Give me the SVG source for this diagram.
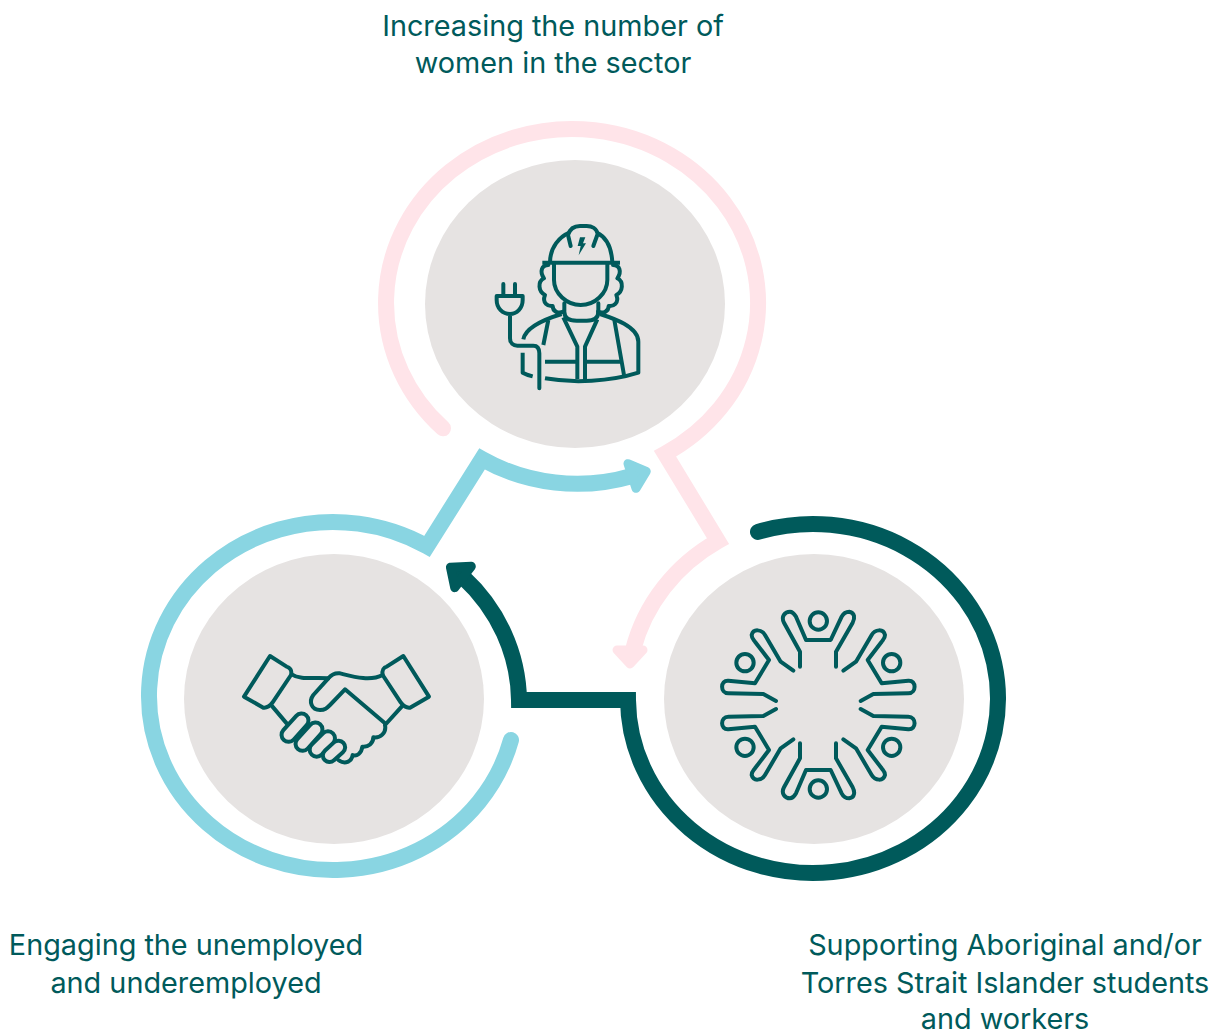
<svg xmlns="http://www.w3.org/2000/svg" width="1223" height="1032" viewBox="0 0 1223 1032">
<style>
.disc{fill:#E6E3E2}
.lbl{font-family:"Inter","Noto Sans",sans-serif;font-size:28.8px;fill:#005A5B;text-anchor:middle}
.ic{fill:none;stroke:#005A5B;stroke-width:12;stroke-linecap:round;stroke-linejoin:round}
.butt{stroke-linecap:butt}
.fing{fill:#E6E3E2;stroke:#005A5B;stroke-width:12}
.ring{fill:none;stroke-width:16;stroke-linecap:round;stroke-linejoin:miter;stroke-miterlimit:10}
</style>
<defs>
<marker id="hPink" markerUnits="userSpaceOnUse" markerWidth="44" markerHeight="44" refX="6" refY="19" orient="90" viewBox="0 0 44 44"><path d="M6,9 L20,22 L6,35 Z" fill="#FFE4E9" stroke="#FFE4E9" stroke-width="9" stroke-linejoin="round"/></marker>
<marker id="hBlue" markerUnits="userSpaceOnUse" markerWidth="44" markerHeight="44" refX="6" refY="22" orient="-18" viewBox="0 0 44 44"><path d="M6,9 L21,22 L6,35 Z" fill="#89D5E2" stroke="#89D5E2" stroke-width="9" stroke-linejoin="round"/></marker>
<marker id="hDark" markerUnits="userSpaceOnUse" markerWidth="44" markerHeight="44" refX="6" refY="22" orient="-142" viewBox="0 0 44 44"><path d="M6,8.5 L22,22 L6,35.5 Z" fill="#005A5B" stroke="#005A5B" stroke-width="9" stroke-linejoin="round"/></marker>
<path id="fig" class="ic" d="M250,212 L212,185 L165,105 C155,88 130,85 125,105 C125,115 130,118 135,125 L177,180 L135,250 L55,242 C30,240 30,280 55,280 L160,282 L198,303"/>
<circle id="figHead" class="ic" cx="105" cy="188" r="26"/>
<path id="figTop" class="ic" d="M270,200 V155 L222,68 C212,50 225,35 240,35 C250,35 255,45 258,50 L288,120 H362 L395,50 C400,40 410,35 418,35 C435,38 435,55 428,68 L378,155 V200"/>
<circle id="figTopHead" class="ic" cx="325" cy="63" r="26"/>
</defs>
<g id="connectors">
<path class="ring" stroke="#FFE4E9" marker-end="url(#hPink)" d="M443,428.3 A186 174 0 1 1 665,453.7 L718,541 A186 175 0 0 0 633,650"/>
<path class="ring" stroke="#89D5E2" marker-end="url(#hBlue)" d="M511,740 A184 174 0 1 1 427,546.4 L482,459 A186 176 0 0 0 632,476"/>
<path class="ring" stroke="#005A5B" marker-end="url(#hDark)" d="M758,531.9 A185 174.5 0 1 1 628,700 L519,700 A185 175 0 0 0 463,577"/>
</g>
<g id="node-women">
<ellipse class="disc" cx="575" cy="304" rx="150" ry="144"/>
<g transform="translate(480 210) scale(.33333)">
<path class="ic butt" d="M210,158 C210,110 240,80 268,68 M350,68 C380,82 395,115 397,158"/>
<path class="ic" d="M272,108 L264,75 C270,55 285,48 300,48 H320 C335,48 350,55 353,72 L340,108"/>
<path class="ic butt" d="M187,158 H420"/>
<path d="M300,82 H316 L309,100 H318 L296,136 L302,108 H293 Z" fill="#005A5B"/>
<path class="ic" d="M222,160 V210 C222,250 260,285 302,285 C345,285 382,250 382,210 V160"/>
<path class="ic" d="M205,165 C185,165 178,185 192,205 C172,215 175,245 195,255 C185,280 205,290 218,288 C218,305 235,312 250,305"/>
<path class="ic" d="M399,165 C419,165 426,185 412,205 C432,215 429,245 409,255 C419,280 399,290 386,288 C386,305 369,312 354,305"/>
<path class="ic" d="M253,280 V305 C253,325 270,332 290,332 H320 C340,332 355,325 355,305 V280"/>
<path class="ic butt" d="M130,388 C135,360 170,335 245,312 M360,312 C400,325 475,350 475,395 V488 C390,515 280,520 195,505 M158,499 C150,497 135,492 128,488 V428"/>
<path class="ic butt" d="M205,330 L190,405 M403,330 L432,495"/>
<path class="ic butt" d="M250,322 L292,410 V507 M352,328 L315,410 V510 M195,455 H292 M315,455 H420"/>
<path class="ic" d="M70,222 V255 M105,222 V255 M50,258 H128 V270 C128,295 110,312 90,312 C68,312 50,295 50,270 Z M90,312 V385 C90,400 100,407 112,407 H160 C172,407 178,415 178,430 V535"/>
</g>
<text class="lbl" x="553" y="36">Increasing the number of</text>
<text class="lbl" x="553" y="73">women in the sector</text>
</g>
<g id="node-unemployed">
<ellipse class="disc" cx="334" cy="699" rx="150" ry="145"/>
<g transform="translate(230 640) scale(.33333)">
<path class="ic" d="M120,48 L42,170 L100,203 C115,205 122,195 128,187 L183,105 C187,90 178,82 170,80 Z"/>
<path class="ic" d="M520,48 L597,170 L540,203 C525,205 518,195 512,187 L458,105 C455,90 462,82 470,80 Z"/>
<path class="ic" d="M185,103 C210,120 250,112 295,115"/>
<path class="ic" d="M458,105 C420,125 370,110 330,100 C315,98 305,103 295,115 L250,165 C235,185 245,210 270,210 C285,210 290,205 300,195 L345,148 L465,250"/>
<path class="ic" d="M515,200 L465,255 C470,280 450,295 430,292 C430,310 415,322 397,320 C395,340 380,350 368,345 C365,365 345,375 325,360"/>
<path class="ic" d="M125,197 L170,250"/>
<rect class="fing" x="-50" y="-21" width="100" height="42" rx="21" transform="translate(195 263) rotate(-48)"/>
<rect class="fing" x="-50" y="-21" width="100" height="42" rx="21" transform="translate(237 290) rotate(-48)"/>
<rect class="fing" x="-45" y="-21" width="90" height="42" rx="21" transform="translate(277 312) rotate(-45)"/>
<rect class="fing" x="-38" y="-20" width="76" height="40" rx="20" transform="translate(312 334) rotate(-42)"/>
</g>
<text class="lbl" x="186" y="955">Engaging the unemployed</text>
<text class="lbl" x="186" y="993">and underemployed</text>
</g>
<g id="node-aboriginal">
<ellipse class="disc" cx="814" cy="699" rx="150" ry="145"/>
<g transform="translate(710 600) scale(.33333)">
<use href="#figTop"/><use href="#figTopHead"/>
<use href="#figTop" transform="matrix(1 0 0 -1 0 630)"/><use href="#figTopHead" transform="matrix(1 0 0 -1 0 630)"/>
<use href="#fig"/><use href="#figHead"/>
<use href="#fig" transform="matrix(-1 0 0 1 650 0)"/><use href="#figHead" transform="matrix(-1 0 0 1 650 0)"/>
<use href="#fig" transform="matrix(1 0 0 -1 0 630)"/><use href="#figHead" transform="matrix(1 0 0 -1 0 630)"/>
<use href="#fig" transform="matrix(-1 0 0 -1 650 630)"/><use href="#figHead" transform="matrix(-1 0 0 -1 650 630)"/>
</g>
<text class="lbl" x="1005" y="955">Supporting Aboriginal and/or</text>
<text class="lbl" x="1005" y="993">Torres Strait Islander students</text>
<text class="lbl" x="1005" y="1029">and workers</text>
</g>
</svg>
